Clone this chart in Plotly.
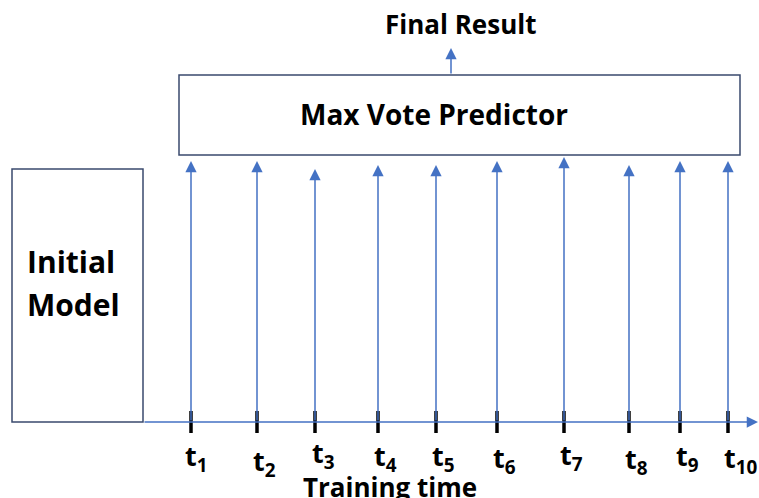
import plotly.graph_objects as go

# ---- data (diagram coordinates on a 759 x 498 canvas) ----
time_labels = ["t<sub>1</sub>", "t<sub>2</sub>", "t<sub>3</sub>", "t<sub>4</sub>", "t<sub>5</sub>",
               "t<sub>6</sub>", "t<sub>7</sub>", "t<sub>8</sub>", "t<sub>9</sub>", "t<sub>10</sub>"]
time_x = [191, 257, 315, 378, 436, 497, 564, 629, 680, 728]
arrow_tops = [161, 161, 169, 165, 165, 161, 157, 165, 161, 161]
label_x = [183, 251, 310, 372, 430, 491, 558, 623, 674, 722]
label_y = [457, 462, 454, 457, 457, 459, 456, 460, 457, 459]

axis_y = 422
axis_x0, axis_x1 = 143, 758
init_box = [12, 169, 143, 422]   # x0, y0, x1, y1
vote_box = [179, 75, 740, 155]
final_x, final_tip = 451, 48

BLUE = "#4472C4"
BOX = "#3A4A6E"
FONT = "Open Sans"

fig = go.Figure()

# ticks on the time axis
tx, ty = [], []
for x in time_x:
    tx += [x, x, None]
    ty += [411, 433, None]
fig.add_trace(go.Scatter(x=tx, y=ty, mode="lines",
                         line=dict(color="black", width=3.5),
                         hoverinfo="skip", showlegend=False))

shapes = [
    dict(type="rect", x0=init_box[0], y0=init_box[1], x1=init_box[2], y1=init_box[3],
         line=dict(color=BOX, width=1.5), fillcolor="white", layer="below"),
    dict(type="rect", x0=vote_box[0], y0=vote_box[1], x1=vote_box[2], y1=vote_box[3],
         line=dict(color=BOX, width=1.5), fillcolor="white", layer="below"),
]

annotations = []
arrow_style = dict(xref="x", yref="y", axref="x", ayref="y", showarrow=True,
                   arrowhead=2, arrowsize=1.5, arrowwidth=1.5, arrowcolor=BLUE, text="")
# time axis arrow
annotations.append(dict(x=axis_x1, y=axis_y, ax=axis_x0, ay=axis_y, **arrow_style))
# vertical arrows
for x, top in zip(time_x, arrow_tops):
    annotations.append(dict(x=x, y=top, ax=x, ay=axis_y, **arrow_style))
# final result arrow
annotations.append(dict(x=final_x, y=final_tip, ax=final_x, ay=vote_box[1], **arrow_style))

# time labels
for lab, x, y in zip(time_labels, label_x, label_y):
    annotations.append(dict(x=x, y=y, xref="x", yref="y", text="<b>" + lab + "</b>",
                            showarrow=False, xanchor="left", yanchor="middle",
                            font=dict(family=FONT, size=27, color="black")))

annotations += [
    dict(x=390, y=487, xref="x", yref="y", text="<b>Training time</b>", showarrow=False,
         xanchor="center", yanchor="middle", font=dict(family=FONT, size=26, color="black")),
    dict(x=460, y=24, xref="x", yref="y", text="<b>Final Result</b>", showarrow=False,
         xanchor="center", yanchor="middle", font=dict(family=FONT, size=26, color="black")),
    dict(x=434, y=114, xref="x", yref="y", text="<b>Max Vote Predictor</b>", showarrow=False,
         xanchor="center", yanchor="middle", font=dict(family=FONT, size=28, color="black")),
    dict(x=25, y=261, xref="x", yref="y", text="<b>Initial</b>", showarrow=False,
         xanchor="left", yanchor="middle", font=dict(family=FONT, size=30, color="black")),
    dict(x=25, y=304, xref="x", yref="y", text="<b>Model</b>", showarrow=False,
         xanchor="left", yanchor="middle", font=dict(family=FONT, size=30, color="black")),
]

fig.update_layout(
    width=759, height=498,
    margin=dict(l=0, r=0, t=0, b=0),
    paper_bgcolor="white", plot_bgcolor="white",
    xaxis=dict(range=[0, 759], visible=False, fixedrange=True),
    yaxis=dict(range=[498, 0], visible=False, fixedrange=True),
    shapes=shapes, annotations=annotations, showlegend=False,
)

fig.write_html("out.html", config={"displayModeBar": False},
               post_script="document.body.style.margin='0';")
